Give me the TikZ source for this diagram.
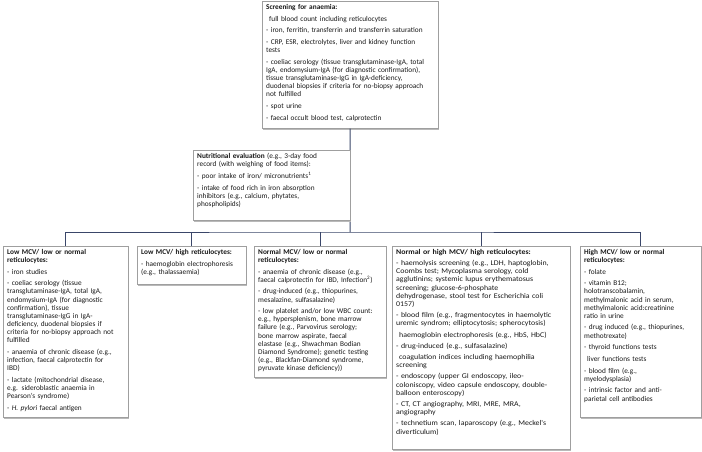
\documentclass[tikz,border=0pt]{standalone}
\usepackage{fontspec}
\setmainfont{Carlito}
\newfontfamily\widefont[FakeStretch=1.08]{Carlito}
\usepackage{xcolor}
\usetikzlibrary{positioning,shadows}
\definecolor{conn}{RGB}{58,70,105}
\newcommand{\gap}{\\[3.6pt]}
\newcommand{\ind}{\hspace*{3pt}}
\newcommand{\dsh}{\mbox{-}\ }

\begin{document}
\begin{tikzpicture}[x=1pt,y=-1pt,
  every node/.style={font=\fontsize{7.3}{8.1}\selectfont,text=black!90},
  b/.style={draw=gray!75,fill=white,align=left,anchor=north west,
    inner xsep=4pt,inner ysep=3pt,
    drop shadow={shadow xshift=1pt,shadow yshift=-1.2pt,fill=gray!55,opacity=1}},
  e/.style={draw=conn,line width=1pt}
]
\useasboundingbox (0,0) rectangle (702,452);

\node[b,text width=168pt,text depth=116pt] (screen) at (262,1)
  {\textbf{Screening for anaemia:}\gap
   \ind full blood count including reticulocytes\gap
   \dsh iron, ferritin, transferrin and transferrin saturation\gap
   \dsh CRP, ESR, electrolytes, liver and kidney function\\
   tests\gap
   \dsh coeliac serology (tissue transglutaminase-IgA, total\\
   IgA, endomysium-IgA (for diagnostic confirmation),\\
   tissue transglutaminase-IgG in IgA-deficiency,\\
   duodenal biopsies if criteria for no-biopsy approach\\
   not fulfilled\gap
   \dsh spot urine\gap
   \dsh faecal occult blood test, calprotectin};

\coordinate (hub) at (350,232);

\draw[e] (screen.south) -- (hub);

\node[b,text width=149pt,text depth=59pt,drop shadow={opacity=0}] (nutr) at (193,150)
  {\textbf{Nutritional evaluation} (e.g., 3-day food\\
   record (with weighing of food items):\gap
   \dsh poor intake of iron/ micronutrients\textsuperscript{1}\gap
   \dsh intake of food rich in iron absorption\\
   inhibitors (e.g., calcium, phytates,\\
   phospholipids)};

\node[b,text width=117pt,text depth=160pt] (lowlow) at (3,246)
  {\textbf{Low MCV/ low or normal}\\
   \textbf{reticulocytes:}\gap
   \dsh iron studies\gap
   \dsh coeliac serology (tissue\\
   transglutaminase-IgA, total IgA,\\
   endomysium-IgA (for diagnostic\\
   confirmation), tissue\\
   transglutaminase-IgG in IgA-\\
   deficiency, duodenal biopsies if\\
   criteria for no-biopsy approach not\\
   fulfilled\gap
   \dsh anaemia of chronic disease (e.g.,\\
   infection, faecal calprotectin for\\
   IBD)\gap
   \dsh lactate (mitochondrial disease,\\
   e.g. sideroblastic anaemia in\\
   Pearson's syndrome)\gap
   \dsh \textit{H. pylori} faecal antigen};

\node[b,text width=101pt,text depth=27pt] (lowhigh) at (137,246)
  {\textbf{Low MCV/ high reticulocytes:}\gap
   \dsh haemoglobin electrophoresis\\
   (e.g., thalassaemia)};

\node[b,text width=124pt,text depth=120pt] (normlow) at (254,246)
  {\textbf{Normal MCV/ low or normal}\\
   \textbf{reticulocytes:}\gap
   \dsh anaemia of chronic disease (e.g.,\\
   faecal calprotectin for IBD, Infection\textsuperscript{2})\gap
   \dsh drug-induced (e.g., thiopurines,\\
   mesalazine, sulfasalazine)\gap
   \dsh low platelet and/or low WBC count:\\
   e.g., hypersplenism, bone marrow\\
   failure (e.g., Parvovirus serology;\\
   bone marrow aspirate, faecal\\
   elastase (e.g., Shwachman Bodian\\
   Diamond Syndrome); genetic testing\\
   (e.g., Blackfan-Diamond syndrome,\\
   pyruvate kinase deficiency))};

\node[b,text width=170pt,text depth=192pt,
      font=\widefont\fontsize{7.3}{8.2}\selectfont] (normhigh) at (392,246)
  {\textbf{Normal or high MCV/ high reticulocytes:}\\[3pt]
   \dsh haemolysis screening (e.g., LDH, haptoglobin,\\
   Coombs test; Mycoplasma serology, cold\\
   agglutinins; systemic lupus erythematosus\\
   screening; glucose-6-phosphate\\
   dehydrogenase, stool test for Escherichia coli\\
   0157)\\[3pt]
   \dsh blood film (e.g., fragmentocytes in haemolytic\\
   uremic syndrom; elliptocytosis; spherocytosis)\\[3pt]
   \ind haemoglobin electrophoresis (e.g., HbS, HbC)\\[3pt]
   \dsh drug-induced (e.g., sulfasalazine)\\[3pt]
   \ind coagulation indices including haemophilia\\
   screening\\[3pt]
   \dsh endoscopy (upper GI endoscopy, ileo-\\
   coloniscopy, video capsule endoscopy, double-\\
   balloon enteroscopy)\\[3pt]
   \dsh CT, CT angiography, MRI, MRE, MRA,\\
   angiography\\[3pt]
   \dsh technetium scan, laparoscopy (e.g., Meckel's\\
   diverticulum)};

\node[b,text width=113pt,text depth=160pt] (highlow) at (580,246)
  {\textbf{High MCV/ low or normal}\\
   \textbf{reticulocytes:}\gap
   \dsh folate\gap
   \dsh vitamin B12;\\
   holotranscobalamin,\\
   methylmalonic acid in serum,\\
   methylmalonic acid:creatinine\\
   ratio in urine\gap
   \dsh drug induced (e.g., thiopurines,\\
   methotrexate)\gap
   \dsh thyroid functions tests\gap
   \ind liver functions tests\gap
   \dsh blood film (e.g.,\\
   myelodysplasia)\gap
   \dsh intrinsic factor and anti-\\
   parietal cell antibodies};

% branches
\draw[e] (lowlow.north) |- (hub) -| (highlow.north);
\draw[e] (lowhigh.north |- hub) -- (lowhigh.north);
\draw[e] (normlow.north |- hub) -- (normlow.north);
\draw[e] (normhigh.north |- hub) -- (normhigh.north);
\end{tikzpicture}
\end{document}
